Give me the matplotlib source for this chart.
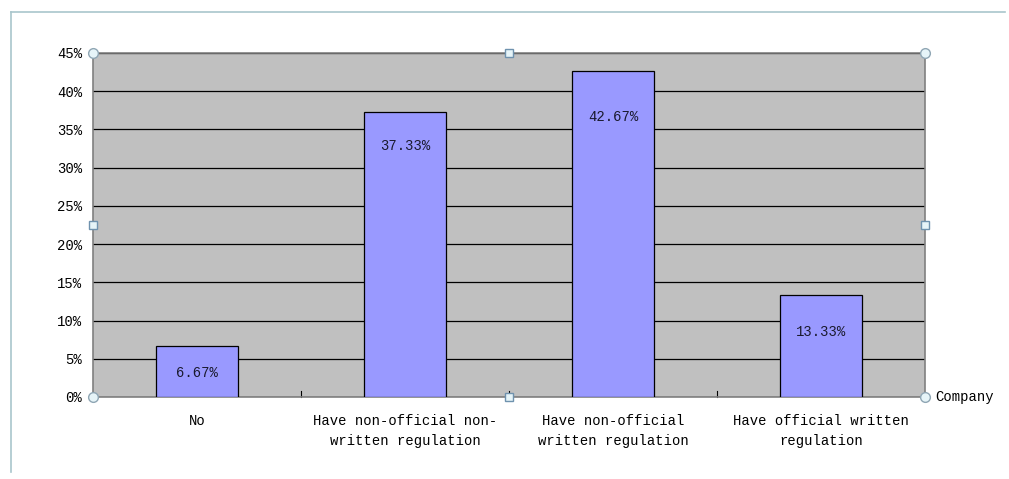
import matplotlib.pyplot as plt
from matplotlib.lines import Line2D
from matplotlib.ticker import MultipleLocator, FuncFormatter

categories = ["No", "Have non-official non-\nwritten regulation",
              "Have non-official\nwritten regulation", "Have official written\nregulation"]
values = [6.67, 37.33, 42.67, 13.33]
value_labels = ["6.67%", "37.33%", "42.67%", "13.33%"]
axis_title = "Company"

FONT = ["Liberation Mono", "DejaVu Sans Mono"]
# how far below each bar top its label sits, in percentage points
label_drop = [3.5, 4.45, 6.0, 4.85]

fig = plt.figure(figsize=(10.09, 4.79), dpi=100)
W, H = 1009, 479
ax = fig.add_axes([93 / W, 1 - 397 / H, (925 - 93) / W, (397 - 53) / H])
ax.set_facecolor("#C0C0C0")

x = list(range(len(categories)))
ax.bar(x, values, width=0.395, color="#9999FF", edgecolor="#000000", linewidth=0.9, zorder=3)
for xi, v, lab, d in zip(x, values, value_labels, label_drop):
    ax.text(xi, v - d, lab, ha="center", va="center", fontsize=10, family=FONT,
            color="#1A1A2E", zorder=4)

ax.set_xlim(-0.5, len(categories) - 0.5)
ax.set_ylim(0, 45)
ax.yaxis.set_major_locator(MultipleLocator(5))
ax.yaxis.set_major_formatter(FuncFormatter(lambda v, p: f"{v:.0f}%"))
ax.grid(axis="y", color="#000000", linewidth=0.9, zorder=1)
ax.set_xticks(x)
ax.set_xticklabels(categories, family=FONT, fontsize=10, linespacing=1.6)
ax.tick_params(axis="x", length=0, pad=12)
ax.tick_params(axis="y", length=0, pad=8, labelsize=10)
for t in ax.get_yticklabels():
    t.set_family(FONT)
# small boundary ticks between categories
for b in [0.5, 1.5, 2.5]:
    ax.plot([b, b], [0, 0.8], color="#000000", linewidth=0.8, zorder=2, clip_on=False)

for side in ["left", "top", "right", "bottom"]:
    ax.spines[side].set_color("#808080")
    ax.spines[side].set_linewidth(1.2)

ax.text(1.012, 0, axis_title, transform=ax.transAxes, ha="left", va="center",
        fontsize=10, family=FONT)

# selection handles of the plot area
circ = [(0, 0), (0, 1), (1, 0), (1, 1)]
sq = [(0.5, 0), (0.5, 1), (0, 0.5), (1, 0.5)]
for px, py in circ:
    ax.plot(px, py, marker="o", ms=7, mfc="#E6F4F8", mec="#8FA6B4", mew=1,
            transform=ax.transAxes, clip_on=False, zorder=6)
for px, py in sq:
    ax.plot(px, py, marker="s", ms=5.5, mfc="#E6F4F8", mec="#6F92AE", mew=1,
            transform=ax.transAxes, clip_on=False, zorder=6)

# outer chart frame
fig.add_artist(Line2D([11 / W, 1005 / W], [1 - 12 / H, 1 - 12 / H], color="#A9C6CC", lw=1.2))
fig.add_artist(Line2D([11 / W, 11 / W], [1 - 12 / H, 1 - 472 / H], color="#A9C6CC", lw=1.2))

fig.savefig("out.png", dpi=100, facecolor="white")
